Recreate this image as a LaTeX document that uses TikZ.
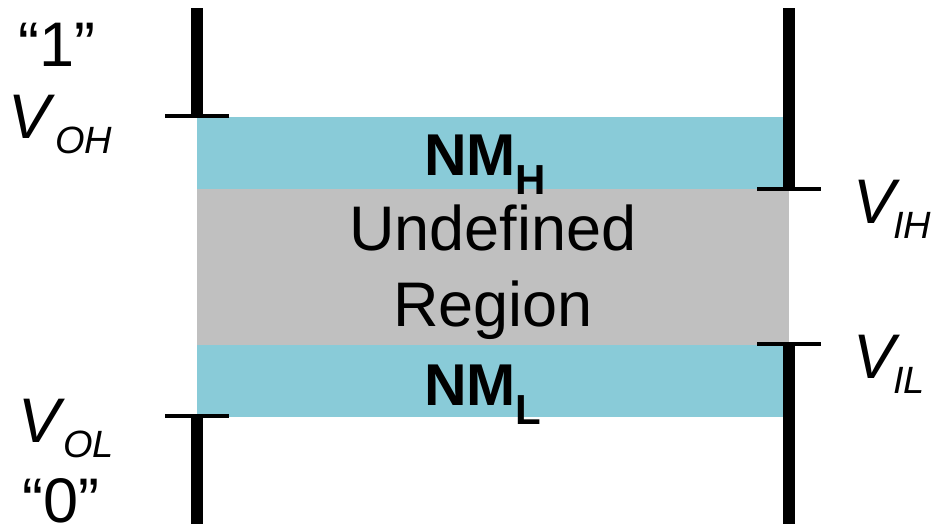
\documentclass[tikz,border=0pt]{standalone}
\usepackage{fontspec}
\setmainfont{Liberation Sans}
\definecolor{nmblue}{RGB}{137,203,216}
\definecolor{undefgray}{RGB}{192,192,192}
% italic voltage label: big V with a lowered subscript
\newcommand\vlabel[2][0pt]{{\fontsize{63}{63}\selectfont\itshape V\kern#1\raisebox{-15pt}{\fontsize{38}{38}\selectfont #2}}}
% bold noise-margin label
\newcommand\nmlabel[1]{{\fontsize{59}{59}\selectfont\bfseries NM\raisebox{-19pt}{\fontsize{42}{42}\selectfont #1}}}
\tikzset{
  rail/.style={line width=12pt},
  tick/.style={line width=4pt},
  lbl/.style={inner sep=0pt, anchor=base west},
}
\begin{document}
\begin{tikzpicture}[x=1pt,y=-1pt]
  \useasboundingbox (0,0) rectangle (936,525);
  % bands
  \fill[nmblue] (197,117) rectangle (783,189);
  \fill[undefgray] (197,189) rectangle (789,345);
  \fill[nmblue] (197,345) rectangle (783,417);
  % output side (left) rail and ticks
  \draw[rail] (197,8) -- (197,116);
  \draw[rail] (197,416) -- (197,524);
  \draw[tick] (165,116) -- (229,116);
  \draw[tick] (165,416) -- (229,416);
  % input side (right) rail and ticks
  \draw[rail] (789,8) -- (789,189);
  \draw[rail] (789,344) -- (789,524);
  \draw[tick] (757,189) -- (821,189);
  \draw[tick] (757,344) -- (821,344);
  % labels
  \node[lbl] (one) at (18,66) {\fontsize{63}{63}\selectfont “1”};
  \node[lbl] (zero) at (22,522) {\fontsize{63}{63}\selectfont “0”};
  \node[lbl] (voh) at (8,138) {\vlabel[5pt]{OH}};
  \node[lbl] (vol) at (18,442) {\vlabel[3pt]{OL}};
  \node[lbl] (vih) at (853,223) {\vlabel[-2pt]{IH}};
  \node[lbl] (vil) at (853,378) {\vlabel[-2pt]{IL}};
  \node[lbl] (nmh) at (424,175) {\nmlabel{H}};
  \node[lbl] (nml) at (424,405) {\nmlabel{L}};
  \node[align=center, inner sep=0pt, font=\fontsize{63}{76}\selectfont] (undef) at (493,272) {Undefined\\Region};
\end{tikzpicture}
\end{document}
